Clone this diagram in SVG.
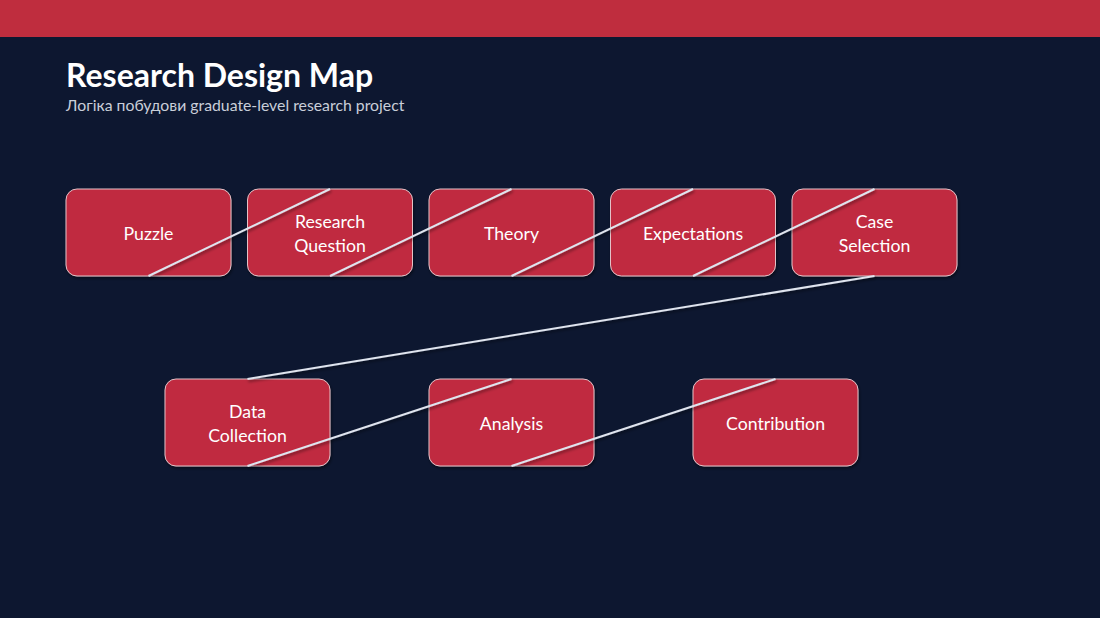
<svg xmlns="http://www.w3.org/2000/svg" width="1100" height="618" viewBox="0 0 1100 618">
<defs>
<filter id="sh" x="-20%" y="-20%" width="140%" height="140%">
<feDropShadow dx="1" dy="2" stdDeviation="1.5" flood-color="#000000" flood-opacity="0.45"/>
</filter>
<style>
.node rect{fill:#c02b3f;stroke:#e3c2c8;stroke-width:1}
.node text{font-family:Lato,"Liberation Sans",sans-serif;font-size:17.7px;fill:#ffffff;text-anchor:middle}
.conn line{stroke:#dfe4ee;stroke-width:2}
.title{font-family:Lato,"Liberation Sans",sans-serif;font-weight:bold;font-size:32px;fill:#ffffff}
.sub{font-family:Lato,"Liberation Sans",sans-serif;font-size:15.8px;fill:#c9ced9}
</style>
</defs>
<rect x="0" y="0" width="1100" height="618" fill="#0d1730"/>
<rect x="0" y="0" width="1100" height="37" fill="#bf2d3e"/>
<text class="title" x="66" y="87">Research Design Map</text>
<text class="sub" x="66" y="111">Логіка побудови graduate-level research project</text>

<g id="n-puzzle" class="node"><rect x="66" y="189" width="165" height="87" rx="11" filter="url(#sh)"/><text x="148.5" y="240">Puzzle</text></g>
<g id="n-question" class="node"><rect x="247.5" y="189" width="165" height="87" rx="11" filter="url(#sh)"/><text x="330" y="228">Research</text><text x="330" y="252">Question</text></g>
<g id="n-theory" class="node"><rect x="429" y="189" width="165" height="87" rx="11" filter="url(#sh)"/><text x="511.5" y="240">Theory</text></g>
<g id="n-expect" class="node"><rect x="610.5" y="189" width="165" height="87" rx="11" filter="url(#sh)"/><text x="693" y="240">Expectations</text></g>
<g id="n-case" class="node"><rect x="792" y="189" width="165" height="87" rx="11" filter="url(#sh)"/><text x="874.5" y="228">Case</text><text x="874.5" y="252">Selection</text></g>
<g id="n-data" class="node"><rect x="165" y="379" width="165" height="87" rx="11" filter="url(#sh)"/><text x="247.5" y="418">Data</text><text x="247.5" y="442">Collection</text></g>
<g id="n-analysis" class="node"><rect x="429" y="379" width="165" height="87" rx="11" filter="url(#sh)"/><text x="511.5" y="430">Analysis</text></g>
<g id="n-contrib" class="node"><rect x="693" y="379" width="165" height="87" rx="11" filter="url(#sh)"/><text x="775.5" y="430">Contribution</text></g>

<g id="connectors" class="conn" filter="url(#sh)">
<line x1="148.5" y1="276" x2="330" y2="189"/>
<line x1="330" y1="276" x2="511.5" y2="189"/>
<line x1="511.5" y1="276" x2="693" y2="189"/>
<line x1="693" y1="276" x2="874.5" y2="189"/>
<line x1="874.5" y1="276" x2="247.5" y2="379"/>
<line x1="247.5" y1="466" x2="511.5" y2="379"/>
<line x1="511.5" y1="466" x2="775.5" y2="379"/>
</g>
</svg>
